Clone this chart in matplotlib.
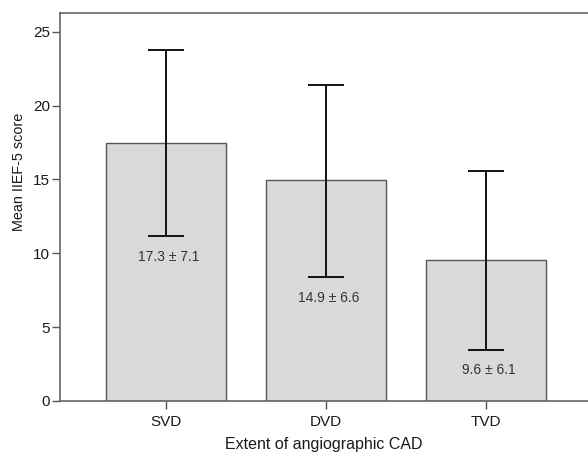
import numpy as np
import matplotlib
matplotlib.use('Agg')
import matplotlib.pyplot as plt

# values
groups = ['SVD', 'DVD', 'TVD']
means = [17.45, 14.95, 9.56]
err_high = [23.8, 21.4, 15.6]
err_low = [11.16, 8.38, 3.46]
bar_labels = ['17.3 \u00b1 7.1', '14.9 \u00b1 6.6', '9.6 \u00b1 6.1']
y_ticks = [0, 5, 10, 15, 20, 25]

plt.rcParams['font.family'] = ['Liberation Sans', 'DejaVu Sans']

fig = plt.figure(figsize=(5.88, 4.54), dpi=100)
ax = fig.add_axes([0.102, 0.117, 0.898, 0.855])

x = np.arange(len(groups))
means = np.array(means)
yerr = np.vstack([means - np.array(err_low), np.array(err_high) - means])

ax.bar(x, means, width=0.75, color='#d9d9d9', edgecolor='#555555',
       linewidth=1.0, zorder=2)
ax.errorbar(x, means, yerr=yerr, fmt='none', ecolor='#111111',
            elinewidth=1.4, capsize=13, capthick=1.4, zorder=3)

for xi, lo, txt in zip(x, err_low, bar_labels):
    ax.text(xi + 0.02, lo - 1.4, txt, ha='center', va='center',
            fontsize=10, color='#333333', zorder=4)

ax.set_xlim(-0.6625, 2.64)
ax.set_ylim(0, 26.3)
ax.set_xticks(x)
ax.set_xticklabels(groups)
ax.set_yticks(y_ticks)

ax.tick_params(axis='both', labelsize=11, colors='#555555',
               labelcolor='#1a1a1a', length=6, width=1.0)
ax.tick_params(axis='y', pad=1)
ax.tick_params(axis='x', pad=4)

for side in ('left', 'bottom', 'top'):
    ax.spines[side].set_color('#666666')
    ax.spines[side].set_linewidth(1.2)
ax.spines['right'].set_visible(False)

ax.set_ylabel('Mean IIEF-5 score', fontsize=10.4, color='#1a1a1a')
ax.yaxis.set_label_coords(-0.064, 0.59)
ax.set_xlabel('Extent of angiographic CAD', fontsize=11.5, color='#1a1a1a',
              labelpad=6)

fig.savefig('out.png', dpi=100)
